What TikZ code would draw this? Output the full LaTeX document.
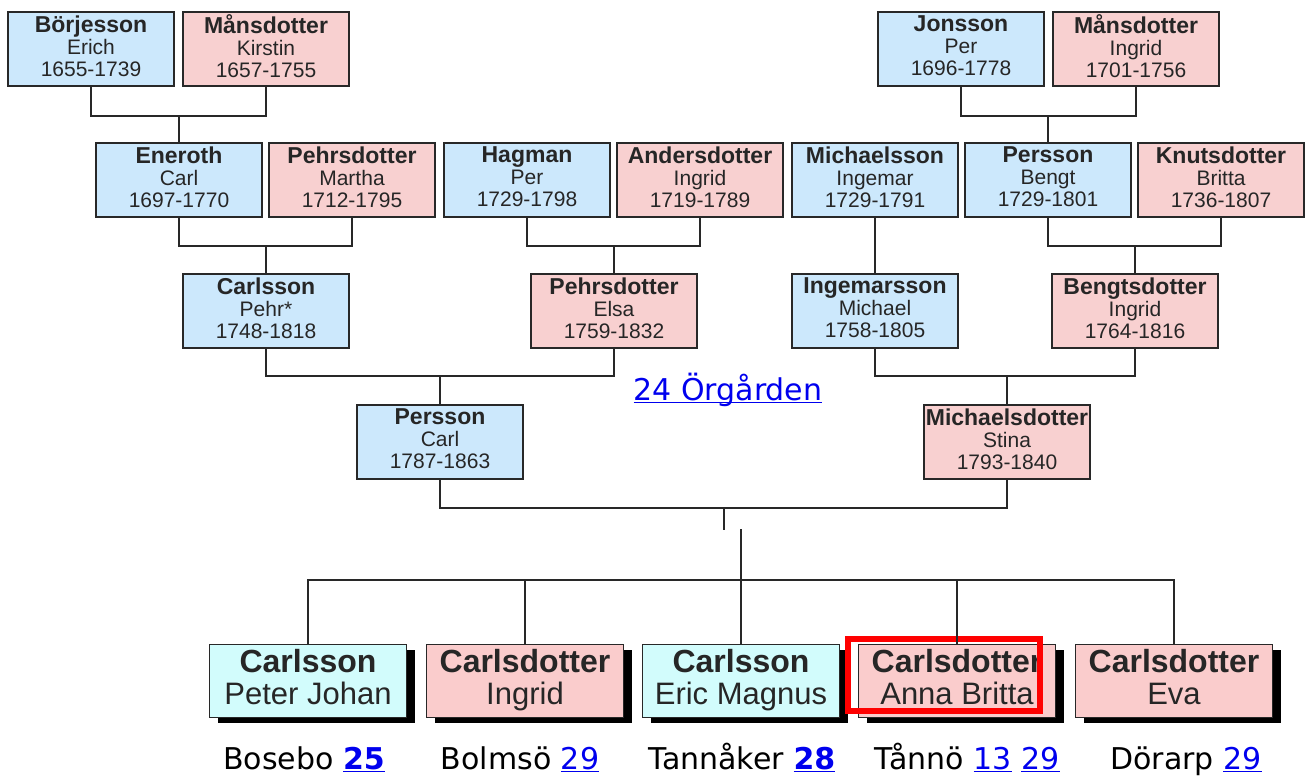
\documentclass[tikz,border=0pt]{standalone}
\usepackage{fontspec}
\setmainfont{Liberation Sans}
\newfontfamily\verdana{DejaVu Sans}
\definecolor{boyblue}{RGB}{204, 232, 252}
\definecolor{girlpink}{RGB}{248, 208, 208}
\definecolor{kidcyan}{RGB}{210, 252, 252}
\definecolor{kidpink}{RGB}{250, 204, 204}
\definecolor{linkblue}{RGB}{0, 0, 238}
\definecolor{linegray}{RGB}{40, 40, 40}
\usepackage{tikz}
\usetikzlibrary{positioning,calc,shadows}
\newcommand{\lnk}[1]{\textcolor{linkblue}{\underline{\smash{#1}}}}
\newcommand{\sur}[1]{{\fontsize{11.5}{11}\bfseries\selectfont #1}}
\newcommand{\kidsur}[1]{{\fontsize{16}{16}\bfseries\selectfont #1}}

\begin{document}
\begin{tikzpicture}[
                x=0.5pt,y=-0.5pt,
                box/.style={draw=linegray,line width=0.8pt,minimum width=83pt,minimum height=37pt,inner sep=0pt,align=center,text=black!85,font=\fontsize{10.5}{11}\selectfont,execute at begin node={\rule{0pt}{11pt}},execute at end node={\rule[-3pt]{0pt}{3pt}}},
                kid/.style={box,minimum width=98.5pt,minimum height=36.5pt,font=\fontsize{15.5}{16}\selectfont,execute at begin node={\rule{0pt}{14pt}},execute at end node={\rule[-4pt]{0pt}{4pt}},drop shadow={shadow xshift=4pt,shadow yshift=-2.5pt,fill=black,opacity=1}},
                link/.style={draw=linegray,line width=1pt},
                place/.style={inner sep=0pt,anchor=base,font=\verdana\fontsize{15}{18}\selectfont}
            ]
                \useasboundingbox (0,0) rectangle (1306,776);
                % generation 1
                \node[box,fill=boyblue] (borj) at (91,49) {\sur{Börjesson}\\Erich\\1655-1739};
                \node[box,fill=girlpink] (kirstin) at (266,49) {\sur{Månsdotter}\\Kirstin\\1657-1755};
                \node[box,fill=boyblue] (jonsson) at (961,49) {\sur{Jonsson}\\Per\\1696-1778};
                \node[box,fill=girlpink] (ingrid) at (1136,49) {\sur{Månsdotter}\\Ingrid\\1701-1756};
                % generation 2
                \node[box,fill=boyblue] (eneroth) at (179,180) {\sur{Eneroth}\\Carl\\1697-1770};
                \node[box,fill=girlpink] (martha) at (352,180) {\sur{Pehrsdotter}\\Martha\\1712-1795};
                \node[box,fill=boyblue] (hagman) at (527,180) {\sur{Hagman}\\Per\\1729-1798};
                \node[box,fill=girlpink] (anders) at (700,180) {\sur{Andersdotter}\\Ingrid\\1719-1789};
                \node[box,fill=boyblue] (ingemar) at (875,180) {\sur{Michaelsson}\\Ingemar\\1729-1791};
                \node[box,fill=boyblue] (bengt) at (1048,180) {\sur{Persson}\\Bengt\\1729-1801};
                \node[box,fill=girlpink] (britta) at (1221,180) {\sur{Knutsdotter}\\Britta\\1736-1807};
                % generation 3
                \node[box,fill=boyblue] (pehr) at (266,311) {\sur{Carlsson}\\Pehr*\\1748-1818};
                \node[box,fill=girlpink] (elsa) at (614,311) {\sur{Pehrsdotter}\\Elsa\\1759-1832};
                \node[box,fill=boyblue] (michael) at (875,311) {\sur{Ingemarsson}\\Michael\\1758-1805};
                \node[box,fill=girlpink] (ingridb) at (1135,311) {\sur{Bengtsdotter}\\Ingrid\\1764-1816};
                % generation 4
                \node[box,fill=boyblue] (carl) at (440,442) {\sur{Persson}\\Carl\\1787-1863};
                \node[box,fill=girlpink] (stina) at (1007,442) {\sur{Michaelsdotter}\\Stina\\1793-1840};
                \node[place] (orgarden) at (728,400) {\lnk{24 Örgården}};
                % children
                \node[kid,fill=kidcyan] (peter) at (308,681) {\kidsur{Carlsson}\\Peter Johan};
                \node[kid,fill=kidpink] (ingridc) at (525,681) {\kidsur{Carlsdotter}\\Ingrid};
                \node[kid,fill=kidcyan] (eric) at (741,681) {\kidsur{Carlsson}\\Eric Magnus};
                \node[kid,fill=kidpink] (anna) at (957,681) {\kidsur{Carlsdotter}\\Anna Britta};
                \node[kid,fill=kidpink] (eva) at (1174,681) {\kidsur{Carlsdotter}\\Eva};
                \draw[red,line width=3pt] (848,639) rectangle (1040,711);
                % farms
                \node[place] (bosebo) at (304,769) {Bosebo \lnk{\textbf{25}}};
                \node[place] (bolmso) at (520,769) {Bolmsö \lnk{29}};
                \node[place] (tannaker) at (742,769) {Tannåker \lnk{\textbf{28}}};
                \node[place] (tanno) at (967,769) {Tånnö \lnk{13} \lnk{29}};
                \node[place] (dorarp) at (1186,769) {Dörarp \lnk{29}};
                % lines
                \draw[link] (eneroth.north) -- ++(0,-26) coordinate (j1);
                \draw[link] (borj.south) |- (j1) -| (kirstin.south);
                \draw[link] (bengt.north) -- ++(0,-26) coordinate (j2);
                \draw[link] (jonsson.south) |- (j2) -| (ingrid.south);
                \draw[link] (pehr.north) -- ++(0,-27) coordinate (j3);
                \draw[link] (eneroth.south) |- (j3) -| (martha.south);
                \draw[link] (elsa.north) -- ++(0,-27) coordinate (j4);
                \draw[link] (hagman.south) |- (j4) -| (anders.south);
                \draw[link] (ingemar.south) -- (michael.north);
                \draw[link] (ingridb.north) -- ++(0,-27) coordinate (j5);
                \draw[link] (bengt.south) |- (j5) -| (britta.south);
                \draw[link] (carl.north) -- ++(0,-28) coordinate (j6);
                \draw[link] (pehr.south) |- (j6) -| (elsa.south);
                \draw[link] (stina.north) -- ++(0,-28) coordinate (j7);
                \draw[link] (michael.south) |- (j7) -| (ingridb.south);
                \draw[link] (carl.south) -- ++(0,28) coordinate (j8) -| (stina.south);
                \draw[link] ($(j8)!0.5!(stina.south |- j8)$) -- ++(0,22);
                \draw[link] (eric.north) -- ++(0,-115);
                \draw[link] (peter.north) -- ++(0,-64) coordinate (k1) -| (eva.north);
                \draw[link] (ingridc.north) -- (ingridc.north |- k1);
                \draw[link] (anna.north) -- (anna.north |- k1);
            \end{tikzpicture}
\end{document}
